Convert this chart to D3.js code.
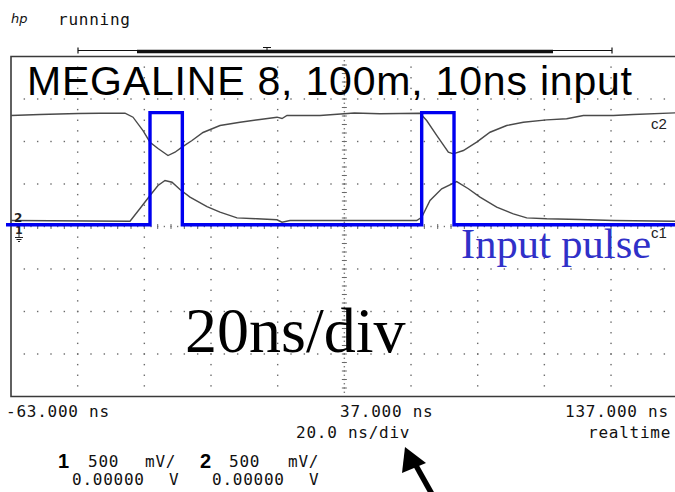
<!DOCTYPE html>
<html lang="en">
<head>
<meta charset="utf-8">
<title>MEGALINE 8 scope capture</title>
<script src="https://d3js.org/d3.v7.min.js"></script>
<style>
  body { margin: 0; background: #fff; }
  svg { display: block; }
  .mono { font-family: "DejaVu Sans Mono", monospace; font-size: 16px; letter-spacing: 0.75px; fill: #111; }
</style>
</head>
<body>
<div id="scope"></div>
<script>
// time base: 20 ns/div, screen from -63 ns to 137 ns; 500 mV/div, offset 0 V
var timeRange = [-63, 137];
var voltRange = [-2, 2];

// channel 2 (upper trace), ns / V
var c2Times = [-63, -54.3, -42.9, -36.3, -28.8, -26.4, -23.4, -21.3, -18.9, -15.9, -13.8, -11.7, -8.7, -5.4, -0.3, 5.7, 11.7, 16.8, 18.3, 19.8, 29.7, 40, 47.7, 59.7, 61.7, 64.7, 68.2, 69.7, 72.7, 76.7, 80.7, 85.7, 90.7, 97.7, 103.7, 108.7, 117.7, 123.7, 137];
var c2Volts = [1.306, 1.318, 1.329, 1.333, 1.333, 1.286, 1.129, 0.992, 0.918, 0.835, 0.874, 0.933, 1.012, 1.106, 1.188, 1.227, 1.259, 1.286, 1.27, 1.306, 1.306, 1.335, 1.326, 1.333, 1.247, 1.071, 0.874, 0.855, 0.894, 0.992, 1.109, 1.188, 1.227, 1.255, 1.267, 1.306, 1.306, 1.318, 1.338];

// channel 1 (lower trace)
var c1Times = [-63, -27.3, -24.3, -21.3, -18.9, -16.8, -14.7, -12.3, -9.3, -4.2, -0.3, 4.8, 10.8, 16.8, 18.3, 20.7, 29.7, 58.7, 60.2, 62.7, 66.2, 70.7, 74.2, 77.7, 82.7, 87.7, 91.7, 97.7, 107.7, 117.7, 137];
var c1Volts = [0.071, 0.062, 0.212, 0.365, 0.482, 0.541, 0.521, 0.435, 0.345, 0.235, 0.168, 0.102, 0.091, 0.079, 0.051, 0.071, 0.071, 0.071, 0.109, 0.306, 0.444, 0.529, 0.444, 0.345, 0.227, 0.149, 0.102, 0.091, 0.082, 0.071, 0.062];

// hand drawn input pulse (blue overlay)
var inputTimes = [-64.5, -21.3, -21.3, -11.6, -11.6, 60.2, 60.2, 69.9, 69.9, 137];
var inputVolts = [0.02, 0.02, 1.34, 1.34, 0.02, 0.02, 1.34, 1.34, 0.02, 0.02];

var timeLabels = ["-63.000 ns", "37.000 ns", "137.000 ns"];

var W = 675, H = 492;
var svg = d3.select("#scope").append("svg")
  .attr("width", W).attr("height", H);

var x = d3.scaleLinear().domain(timeRange).range([11, 677.7]);
var y = d3.scaleLinear().domain(voltRange).range([396.5, 56.5]);

// header
svg.append("text").attr("x", 11).attr("y", 23)
  .style("font-family", "DejaVu Sans").style("font-style", "italic")
  .style("font-size", "13px").attr("fill", "#111").text("hp");
svg.append("text").attr("class", "mono").attr("x", 58).attr("y", 25).text("running");

// memory bar
var bar = svg.append("g").attr("stroke", "#111");
bar.append("line").attr("x1", 78).attr("x2", 612).attr("y1", 50.5).attr("y2", 50.5).attr("stroke-width", 1.2);
bar.append("line").attr("x1", 137).attr("x2", 553).attr("y1", 51.5).attr("y2", 51.5).attr("stroke-width", 3.5);
bar.append("line").attr("x1", 78).attr("x2", 78).attr("y1", 47.5).attr("y2", 53.5).attr("stroke-width", 1.2);
bar.append("line").attr("x1", 612).attr("x2", 612).attr("y1", 47.5).attr("y2", 53.5).attr("stroke-width", 1.2);
bar.append("line").attr("x1", 263).attr("x2", 271).attr("y1", 47.5).attr("y2", 47.5).attr("stroke-width", 1);
bar.append("line").attr("x1", 267).attr("x2", 267).attr("y1", 47.5).attr("y2", 50).attr("stroke-width", 1);

// graticule dots
var grid = svg.append("g").attr("fill", "#6a6a6a");
var majorT = d3.range(timeRange[0] + 20, timeRange[1], 20);
var majorV = d3.range(voltRange[0] + 0.5, voltRange[1], 0.5);
var minorT = d3.range(timeRange[0] + 4, timeRange[1], 4);
var minorV = d3.range(voltRange[0] + 0.125, voltRange[1], 0.125);

majorV.filter(function(v) { return Math.abs(v) > 1e-6; }).forEach(function(v) {
  grid.selectAll(null).data(minorT).enter().append("rect")
    .attr("x", function(t) { return x(t) - 0.7; })
    .attr("y", y(v) - 0.7)
    .attr("width", 1.4).attr("height", 1.4);
});
majorT.filter(function(t) { return Math.abs(t - 37) > 1e-6; }).forEach(function(t) {
  grid.selectAll(null).data(minorV).enter().append("rect")
    .attr("x", x(t) - 0.7)
    .attr("y", function(v) { return y(v) - 0.7; })
    .attr("width", 1.4).attr("height", 1.4);
});

// center axes with fine ticks
var cx = x(37), cy = y(0);
grid.selectAll(null).data(d3.range(voltRange[0] + 0.05, voltRange[1], 0.05)).enter().append("rect")
  .attr("x", cx - 0.7).attr("y", function(v) { return y(v) - 0.6; })
  .attr("width", 1.4).attr("height", 1.2);
grid.selectAll(null).data(d3.range(voltRange[0] + 0.1, voltRange[1], 0.1)).enter().append("rect")
  .attr("x", cx - 2.5).attr("y", function(v) { return y(v) - 0.5; })
  .attr("width", 5).attr("height", 1);
grid.selectAll(null).data(d3.range(timeRange[0] + 2, timeRange[1], 2)).enter().append("rect")
  .attr("x", function(t) { return x(t) - 0.6; }).attr("y", cy - 0.7)
  .attr("width", 1.2).attr("height", 1.4);
grid.selectAll(null).data(minorT).enter().append("rect")
  .attr("x", function(t) { return x(t) - 0.5; }).attr("y", cy - 2.5)
  .attr("width", 1).attr("height", 5);

// frame
svg.append("path")
  .attr("d", "M" + (W + 5) + "," + y(2) + "H" + x(-63) + "V" + y(-2) + "H" + (W + 5))
  .attr("fill", "none").attr("stroke", "#3a3a3a").attr("stroke-width", 1.6);

// title
svg.append("text").attr("x", 27).attr("y", 95)
  .attr("textLength", 605).attr("lengthAdjust", "spacing")
  .style("font-family", "'Liberation Sans', Arial, sans-serif").style("font-size", "41px")
  .attr("fill", "#000").text("MEGALINE 8, 100m, 10ns input");

// traces
var line = d3.line()
  .x(function(d) { return x(d[0]); })
  .y(function(d) { return y(d[1]); });

svg.append("path").datum(d3.zip(c2Times, c2Volts))
  .attr("d", line).attr("fill", "none").attr("stroke", "#4a4a4a").attr("stroke-width", 1.4);
svg.append("path").datum(d3.zip(c1Times, c1Volts))
  .attr("d", line).attr("fill", "none").attr("stroke", "#4a4a4a").attr("stroke-width", 1.4);

// channel labels and ground markers
svg.append("text").attr("x", 651).attr("y", 129)
  .style("font-family", "'Liberation Sans', Arial, sans-serif").style("font-size", "15px")
  .attr("fill", "#222").text("c2");
svg.append("text").attr("x", 651).attr("y", 238)
  .style("font-family", "'Liberation Sans', Arial, sans-serif").style("font-size", "15px")
  .attr("fill", "#222").text("c1");

var gnd = svg.append("g").attr("fill", "#222").attr("stroke", "#222");
gnd.append("text").attr("x", 14).attr("y", 222).attr("stroke", "none")
  .style("font-family", "DejaVu Sans").style("font-size", "12px").style("font-weight", "bold").text("2");
gnd.append("text").attr("x", 15).attr("y", 234).attr("stroke", "none")
  .style("font-family", "DejaVu Sans").style("font-size", "11px").style("font-weight", "bold").text("1");
gnd.append("line").attr("x1", 19).attr("x2", 19).attr("y1", 233).attr("y2", 237).attr("stroke-width", 1);
gnd.append("line").attr("x1", 15).attr("x2", 23).attr("y1", 237.5).attr("y2", 237.5).attr("stroke-width", 1);
gnd.append("line").attr("x1", 16.5).attr("x2", 21.5).attr("y1", 239.5).attr("y2", 239.5).attr("stroke-width", 1);
gnd.append("line").attr("x1", 18).attr("x2", 20).attr("y1", 241.5).attr("y2", 241.5).attr("stroke-width", 1);

// input pulse overlay
svg.append("path").datum(d3.zip(inputTimes, inputVolts))
  .attr("d", line).attr("fill", "none").attr("stroke", "#0000f0")
  .attr("stroke-width", 3.4).attr("stroke-linejoin", "miter");

svg.append("text").attr("x", 461).attr("y", 258)
  .style("font-family", "'Liberation Serif', 'Times New Roman', serif").style("font-size", "42.5px")
  .attr("fill", "#3030c8").text("Input pulse");

svg.append("text").attr("x", 185).attr("y", 352)
  .style("font-family", "'Liberation Serif', 'Times New Roman', serif").style("font-size", "64px")
  .attr("fill", "#000").text("20ns/div");

// readouts under the screen
svg.append("text").attr("class", "mono").attr("x", 6).attr("y", 416.5).text(timeLabels[0]);
svg.append("text").attr("class", "mono").attr("x", 340).attr("y", 416.5).text(timeLabels[1]);
svg.append("text").attr("class", "mono").attr("x", 565).attr("y", 416.5).text(timeLabels[2]);
svg.append("text").attr("class", "mono").attr("x", 296).attr("y", 438).text("20.0 ns/div");
svg.append("text").attr("class", "mono").attr("x", 588).attr("y", 438).text("realtime");

var chan = [
  {n: "1", x: 58, sx: 88, ux: 145, ox: 72, vx: 169},
  {n: "2", x: 200, sx: 229, ux: 288, ox: 212, vx: 309}
];
chan.forEach(function(c) {
  svg.append("text").attr("x", c.x).attr("y", 468)
    .style("font-family", "'Liberation Sans', Arial, sans-serif").style("font-size", "20px")
    .style("font-weight", "bold").attr("fill", "#000").text(c.n);
  svg.append("text").attr("class", "mono").attr("x", c.sx).attr("y", 467).text("500");
  svg.append("text").attr("class", "mono").attr("x", c.ux).attr("y", 467).text("mV/");
  svg.append("text").attr("class", "mono").attr("x", c.ox).attr("y", 485).text("0.00000");
  svg.append("text").attr("class", "mono").attr("x", c.vx).attr("y", 485).text("V");
});

// arrow pointing at the time base readout
svg.append("line").attr("x1", 433).attr("y1", 496).attr("x2", 414).attr("y2", 462)
  .attr("stroke", "#000").attr("stroke-width", 5.5);
svg.append("path").attr("d", "M405,447 L402,473 L426,463 Z").attr("fill", "#000");
</script>
</body>
</html>
